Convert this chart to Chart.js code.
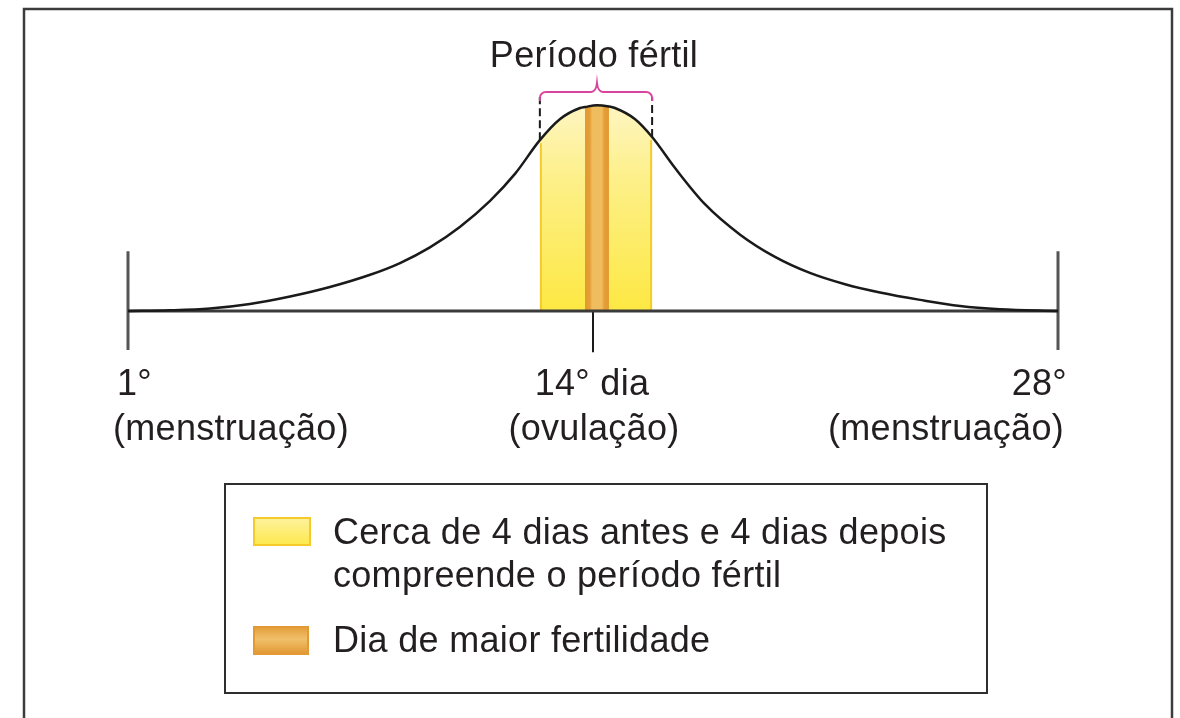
<!DOCTYPE html>
<html>
<head>
<meta charset="utf-8">
<script src="https://cdn.jsdelivr.net/npm/chart.js@4/dist/chart.umd.min.js"></script>
<style>
  html, body { margin: 0; padding: 0; background: #fff; }
  canvas { display: block; }
</style>
</head>
<body>
<canvas id="ciclo" width="1180" height="718"></canvas>
<script>
// curva (posicao no ciclo, 0 = 1o dia, 28 = 28o dia)
var CURVE_X = [0, 1.26, 2.47, 3.67, 4.88, 6.08, 7.29, 8.19, 9.09, 9.99, 10.9, 11.65, 12.4, 13.01, 13.61, 13.76, 14.12, 14.48, 14.66, 15.26, 15.78, 16.47, 17.37, 18.43, 19.48, 20.53, 21.59, 22.64, 23.85, 25.05, 26.25, 28];
var CURVE_Y = [0, 0.34, 1.21, 3.4, 7.04, 11.66, 17.6, 23.3, 30.9, 40.8, 53.5, 66.6, 83.0, 93.28, 98.62, 99.1, 100, 99.35, 98.62, 93.28, 84.54, 69.47, 51.9, 37.1, 26.3, 18.5, 13.0, 9.0, 5.4, 2.4, 0.85, 0];

var BAND_FERTIL = [12.4, 15.78];    // periodo fertil
var BAND_OVULACAO = [13.76, 14.48]; // dia de maior fertilidade
var DASH_TOP = 104;

var TICK_POS = [0, 14, 28];
var TICK_LINE1 = ['1°', '14° dia', '28°'];
var TICK_LINE2 = ['(menstruação)', '(ovulação)', '(menstruação)'];
var TICK_ALIGN = ['left', 'center', 'right'];

var TITLE = 'Período fértil';
var LEGEND_LINES = [
  ['Cerca de 4 dias antes e 4 dias depois', 'compreende o período fértil'],
  ['Dia de maior fertilidade']
];

var FONT = "'Liberation Sans', Arial, sans-serif";
var INK = '#231f20';

function pts(xs, ys) {
  return xs.map(function (x, i) { return { x: x, y: ys[i] }; });
}
function bandPts(band) {
  return pts(CURVE_X, CURVE_Y).filter(function (p) { return p.x >= band[0] - 1e-6 && p.x <= band[1] + 1e-6; });
}
function curveAt(x) {
  var i = CURVE_X.indexOf(x);
  return i >= 0 ? CURVE_Y[i] : 0;
}

function yellowFill(ctx) {
  var c = ctx.chart;
  if (!c.chartArea) return '#fdec50';
  var y = c.scales.y;
  var g = c.ctx.createLinearGradient(0, y.getPixelForValue(100), 0, y.getPixelForValue(0));
  g.addColorStop(0, '#fef5c2');
  g.addColorStop(0.35, '#fdf08a');
  g.addColorStop(1, '#fde843');
  return g;
}
function orangeFill(ctx) {
  var c = ctx.chart;
  if (!c.chartArea) return '#e9a443';
  var x = c.scales.x;
  var g = c.ctx.createLinearGradient(x.getPixelForValue(BAND_OVULACAO[0]), 0, x.getPixelForValue(BAND_OVULACAO[1]), 0);
  g.addColorStop(0, '#e2982f');
  g.addColorStop(0.2, '#e59f38');
  g.addColorStop(0.3, '#efbc5e');
  g.addColorStop(0.7, '#efbc5e');
  g.addColorStop(0.8, '#e59f38');
  g.addColorStop(1, '#e2982f');
  return g;
}

var lineBase = { pointRadius: 0, fill: false, tension: 0 };
function seg(data, color, width, order, dash) {
  return Object.assign({}, lineBase, {
    data: data, borderColor: color, borderWidth: width, order: order, borderDash: dash || []
  });
}

var datasets = [
  Object.assign({}, lineBase, {
    data: pts(CURVE_X, CURVE_Y), borderColor: '#1a1a1a', borderWidth: 2.5,
    cubicInterpolationMode: 'monotone', order: 0
  }),
  seg([{ x: BAND_FERTIL[0], y: curveAt(BAND_FERTIL[0]) }, { x: BAND_FERTIL[0], y: DASH_TOP }], '#1a1a1a', 2, 1, [8, 4]),
  seg([{ x: BAND_FERTIL[1], y: curveAt(BAND_FERTIL[1]) }, { x: BAND_FERTIL[1], y: DASH_TOP }], '#1a1a1a', 2, 1, [8, 4]),
  seg([{ x: 0, y: 0 }, { x: 28, y: 0 }], '#3a3a3a', 3, 2),
  seg([{ x: 0, y: 29 }, { x: 0, y: -19 }], '#555', 3, 2),
  seg([{ x: 28, y: 29 }, { x: 28, y: -19 }], '#555', 3, 2),
  seg([{ x: 14, y: 0 }, { x: 14, y: -20 }], '#1a1a1a', 2, 2),
  Object.assign({}, lineBase, {
    data: bandPts(BAND_OVULACAO), borderWidth: 0, backgroundColor: orangeFill,
    fill: 'origin', cubicInterpolationMode: 'monotone', order: 3
  }),
  Object.assign({}, lineBase, {
    data: bandPts(BAND_FERTIL), borderWidth: 0, backgroundColor: yellowFill,
    fill: 'origin', cubicInterpolationMode: 'monotone', order: 4
  })
];

function bandEdges(ctx, c, band, color, w) {
  var x = c.scales.x, y = c.scales.y;
  ctx.save();
  ctx.strokeStyle = color;
  ctx.lineWidth = w;
  band.forEach(function (v, i) {
    var px = x.getPixelForValue(v) + (i === 0 ? w / 2 : -w / 2);
    ctx.beginPath();
    ctx.moveTo(px, y.getPixelForValue(0));
    ctx.lineTo(px, y.getPixelForValue(curveAt(v)) + 3);
    ctx.stroke();
  });
  ctx.restore();
}

var overlay = {
  id: 'overlay',
  beforeDraw: function (c) {
    var ctx = c.ctx;
    ctx.save();
    ctx.fillStyle = '#fff';
    ctx.fillRect(0, 0, c.width, c.height);
    ctx.restore();
  },
  beforeDatasetDraw: function (c, args) {
    // contorno amarelo escuro nas bordas da faixa fertil, antes da faixa laranja
    if (args.index === 7) bandEdges(c.ctx, c, BAND_FERTIL, '#f4cb2a', 2);
  },
  afterDraw: function (c) {
    var ctx = c.ctx, x = c.scales.x, y = c.scales.y;
    ctx.save();

    // moldura
    ctx.strokeStyle = '#3c3c3c';
    ctx.lineWidth = 2.5;
    ctx.beginPath();
    ctx.moveTo(24, 720);
    ctx.lineTo(24, 9);
    ctx.lineTo(1172, 9);
    ctx.lineTo(1172, 720);
    ctx.stroke();

    // chave magenta
    var x0 = x.getPixelForValue(BAND_FERTIL[0]), x1 = x.getPixelForValue(BAND_FERTIL[1]);
    var xm = x.getPixelForValue(CURVE_X[CURVE_Y.indexOf(100)]);
    var yb = 92, r = 6;
    ctx.strokeStyle = '#d9449f';
    ctx.lineWidth = 2;
    ctx.beginPath();
    ctx.moveTo(x0, yb + 9);
    ctx.arcTo(x0, yb, x0 + r, yb, r);
    ctx.lineTo(xm - 6, yb);
    ctx.quadraticCurveTo(xm - 1, yb, xm, yb - 9);
    ctx.quadraticCurveTo(xm + 1, yb, xm + 6, yb);
    ctx.lineTo(x1 - r, yb);
    ctx.arcTo(x1, yb, x1, yb + r, r);
    ctx.lineTo(x1, yb + 9);
    ctx.stroke();

    ctx.fillStyle = INK;
    ctx.textBaseline = 'alphabetic';
    ctx.font = '36px ' + FONT;
    ctx.letterSpacing = '0.3px';
    ctx.textAlign = 'center';
    ctx.fillText(TITLE, x.getPixelForValue(14) + 1, 67);

    // rotulos do eixo
    var base = y.getPixelForValue(0);
    TICK_POS.forEach(function (v, i) {
      var px = x.getPixelForValue(v);
      if (TICK_ALIGN[i] === 'left') {
        ctx.textAlign = 'left';
        ctx.fillText(TICK_LINE1[i], px - 11, base + 84);
        ctx.fillText(TICK_LINE2[i], px - 15, base + 129);
      } else if (TICK_ALIGN[i] === 'right') {
        ctx.textAlign = 'right';
        ctx.fillText(TICK_LINE1[i], px + 9, base + 84);
        ctx.fillText(TICK_LINE2[i], px + 6, base + 129);
      } else {
        ctx.textAlign = 'center';
        ctx.fillText(TICK_LINE1[i], px - 1, base + 84);
        ctx.fillText(TICK_LINE2[i], px + 1, base + 129);
      }
    });

    // legenda
    ctx.strokeStyle = '#2e2e2e';
    ctx.lineWidth = 2;
    ctx.strokeRect(225, 484, 762, 209);

    var gy = ctx.createLinearGradient(0, 517, 0, 546);
    gy.addColorStop(0, '#fdf2a0');
    gy.addColorStop(1, '#fde84a');
    ctx.fillStyle = gy;
    ctx.fillRect(254, 518, 56, 27);
    ctx.strokeStyle = '#f4cb2a';
    ctx.lineWidth = 2;
    ctx.strokeRect(254, 518, 56, 27);

    var go = ctx.createLinearGradient(0, 626, 0, 655);
    go.addColorStop(0, '#e39a35');
    go.addColorStop(0.45, '#f0c06a');
    go.addColorStop(1, '#e0952f');
    ctx.fillStyle = go;
    ctx.fillRect(254, 627, 54, 27);
    ctx.strokeStyle = '#e49a34';
    ctx.strokeRect(254, 627, 54, 27);

    ctx.fillStyle = INK;
    ctx.textAlign = 'left';
    ctx.fillText(LEGEND_LINES[0][0], 333, 544);
    ctx.fillText(LEGEND_LINES[0][1], 333, 587);
    ctx.fillText(LEGEND_LINES[1][0], 333, 652);
    ctx.restore();
  }
};

new Chart(document.getElementById('ciclo').getContext('2d'), {
  type: 'line',
  data: { datasets: datasets },
  options: {
    responsive: false,
    animation: false,
    devicePixelRatio: 1,
    layout: { padding: { left: 128, right: 122, top: 64, bottom: 407 } },
    plugins: { legend: { display: false }, tooltip: { enabled: false } },
    scales: {
      x: { type: 'linear', min: 0, max: 28, display: false },
      y: { type: 'linear', min: 0, max: 120, display: false }
    },
    clip: false
  },
  plugins: [overlay]
});
</script>
</body>
</html>
